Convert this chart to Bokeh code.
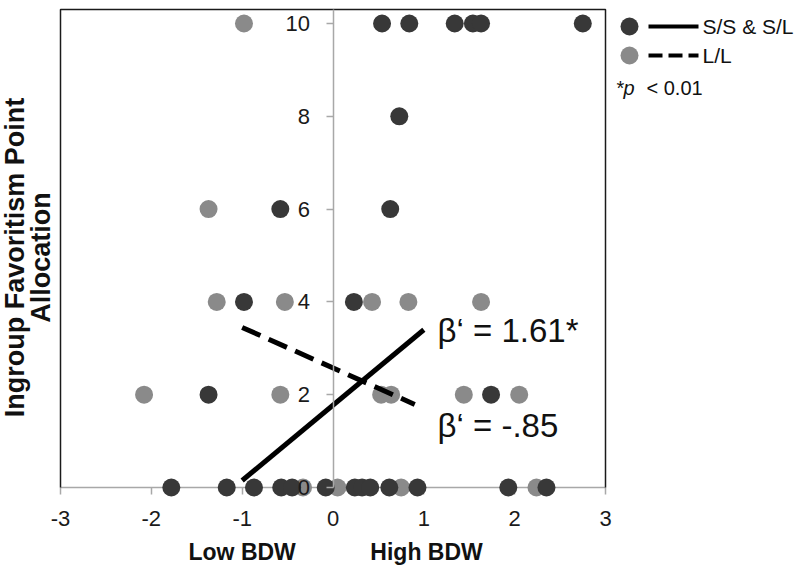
import numpy as np
from bokeh.plotting import figure
from bokeh.models import Range1d, FixedTicker, Label, PrintfTickFormatter
from bokeh.embed import file_html
from bokeh.resources import INLINE

# ---------------- data ----------------
# S/S & S/L group (dark points)
ss_x = [0.54, 0.84, 1.34, 1.54, 1.63, 2.75,
        0.73,
        -0.58, 0.63,
        -0.98, 0.23,
        -1.37, 1.74,
        -1.78, -1.17, -0.87, -0.57, -0.45, -0.08, 0.24, 0.32, 0.41, 0.62, 0.93, 1.93, 2.35]
ss_y = [10, 10, 10, 10, 10, 10,
        8,
        6, 6,
        4, 4,
        2, 2,
        0, 0, 0, 0, 0, 0, 0, 0, 0, 0, 0, 0, 0]
# L/L group (gray points)
ll_x = [-0.98,
        -1.37,
        -1.28, -0.53, 0.43, 0.83, 1.63,
        -2.08, -0.58, 0.53, 0.64, 1.44, 2.05,
        -0.33, 0.05, 0.75, 2.24]
ll_y = [10,
        6,
        4, 4, 4, 4, 4,
        2, 2, 2, 2, 2, 2,
        0, 0, 0, 0]
# regression lines
ss_line_x = [-1.0, 1.0]
ss_line_y = [0.15, 3.40]
ll_line_x = [-1.0, 0.9]
ll_line_y = [3.45, 1.79]

x_ticks = [-3, -2, -1, 0, 1, 2, 3]
y_ticks = [0, 2, 4, 6, 8, 10]
x_lim = (-3, 3)
y_lim = (0, 10.3)
ss_label = "S/S & S/L"
ll_label = "L/L"
beta_ss = "β‘ = 1.61*"
beta_ll = "β‘ = -.85"
y_title_1 = "Ingroup Favoritism Point"
y_title_2 = "Allocation"
x_low = "Low BDW"
x_high = "High BDW"

DARK = "#383838"
GRAY = "#8a8a8a"
AXIS_GRAY = "#a8a8a8"
FONT = "Liberation Sans"

# ---------------- layout ----------------
W, H = 800, 569
# pixel anchors of the data box
PX_XM3, PX_XP3 = 60.0, 605.0     # x = -3, x = 3
PX_Y0, PX_Y10 = 487.0, 23.0      # y = 0, y = 10
SX = (PX_XP3 - PX_XM3) / 6.0
SY = (PX_Y0 - PX_Y10) / 10.0
X0 = -3 - PX_XM3 / SX
X1 = X0 + W / SX
Y1 = PX_Y0 / SY
Y0 = Y1 - H / SY

p = figure(frame_width=W, frame_height=H,
           x_range=Range1d(X0, X1), y_range=Range1d(Y0, Y1),
           min_border_left=0, min_border_right=0,
           min_border_top=0, min_border_bottom=0,
           output_backend="svg", toolbar_location=None, title=None)
p.xgrid.visible = False
p.ygrid.visible = False
p.outline_line_color = None
p.background_fill_color = "white"
p.border_fill_color = "white"

# helpers mapping page pixel positions to data coordinates (annotations only)
def dx(px):
    return X0 + px / SX

def dy(py):
    return Y1 - py / SY

# plot box (left, top, right sides; bottom is the x axis)
p.line([x_lim[0], x_lim[0], x_lim[1], x_lim[1]], [y_lim[0], y_lim[1], y_lim[1], y_lim[0]],
       line_color="#1a1a1a", line_width=1.5)

# axes
for ax, ticks, lim, standoff in ((p.xaxis[0], x_ticks, x_lim, 16),
                                 (p.yaxis[0], y_ticks, y_lim, 16)):
    ax.fixed_location = 0
    ax.bounds = lim
    ax.ticker = FixedTicker(ticks=ticks)
    ax.formatter = PrintfTickFormatter(format="%d")
    ax.axis_line_color = AXIS_GRAY
    ax.axis_line_width = 1.5
    ax.major_tick_line_color = AXIS_GRAY
    ax.major_tick_line_width = 1.5
    ax.major_tick_out = 7
    ax.major_tick_in = 0
    ax.minor_tick_line_color = None
    ax.major_label_text_font = FONT
    ax.major_label_text_font_size = "22px"
    ax.major_label_text_color = "#1a1a1a"
    ax.major_label_standoff = standoff
p.xaxis[0].level = "underlay"

# points
p.scatter(ll_x, ll_y, size=18, color=GRAY, line_color=None)
p.scatter(ss_x, ss_y, size=18, color=DARK, line_color=None)

# regression lines
p.line(ss_line_x, ss_line_y, line_width=5, color="black")
p.line(ll_line_x, ll_line_y, line_width=5, color="black", line_dash="20 9")

# beta labels
p.add_layout(Label(x=dx(437), y=dy(330), text=beta_ss, text_font=FONT,
                   text_font_size="33px", text_baseline="middle", text_color="#111111"))
p.add_layout(Label(x=dx(437), y=dy(425), text=beta_ll, text_font=FONT,
                   text_font_size="33px", text_baseline="middle", text_color="#111111"))

# axis titles
p.add_layout(Label(x=dx(14), y=dy(257), text=y_title_1, angle=np.pi / 2,
                   text_align="center", text_baseline="middle", text_font=FONT,
                   text_font_size="27px", text_font_style="bold", text_color="#111111"))
p.add_layout(Label(x=dx(40), y=dy(257), text=y_title_2, angle=np.pi / 2,
                   text_align="center", text_baseline="middle", text_font=FONT,
                   text_font_size="27px", text_font_style="bold", text_color="#111111"))
p.add_layout(Label(x=-1, y=dy(551), text=x_low, text_align="center",
                   text_baseline="middle", text_font=FONT, text_font_size="23px",
                   text_font_style="bold", text_color="#111111"))
p.add_layout(Label(x=1.03, y=dy(551), text=x_high, text_align="center",
                   text_baseline="middle", text_font=FONT, text_font_size="23px",
                   text_font_style="bold", text_color="#111111"))

# legend (drawn manually: marker, line, text)
p.scatter([dx(629)], [dy(26)], size=18, color=DARK, line_color=None)
p.scatter([dx(629)], [dy(55)], size=18, color=GRAY, line_color=None)
p.line([dx(648), dx(698)], [dy(26), dy(26)], line_width=4, color="black")
p.line([dx(648), dx(698)], [dy(55), dy(55)], line_width=4, color="black", line_dash="14 6")
p.add_layout(Label(x=dx(702), y=dy(26), text=ss_label, text_font=FONT,
                   text_font_size="21px", text_baseline="middle", text_color="#111111"))
p.add_layout(Label(x=dx(702), y=dy(55), text=ll_label, text_font=FONT,
                   text_font_size="21px", text_baseline="middle", text_color="#111111"))
p.add_layout(Label(x=dx(616), y=dy(87), text="*", text_font=FONT,
                   text_font_size="20px", text_baseline="middle", text_color="#111111"))
p.add_layout(Label(x=dx(623), y=dy(87), text="p", text_font=FONT,
                   text_font_size="20px", text_font_style="italic",
                   text_baseline="middle", text_color="#111111"))
p.add_layout(Label(x=dx(646), y=dy(87), text="< 0.01", text_font=FONT,
                   text_font_size="20px", text_baseline="middle", text_color="#111111"))

open("out.html", "w").write(file_html(p, INLINE))
